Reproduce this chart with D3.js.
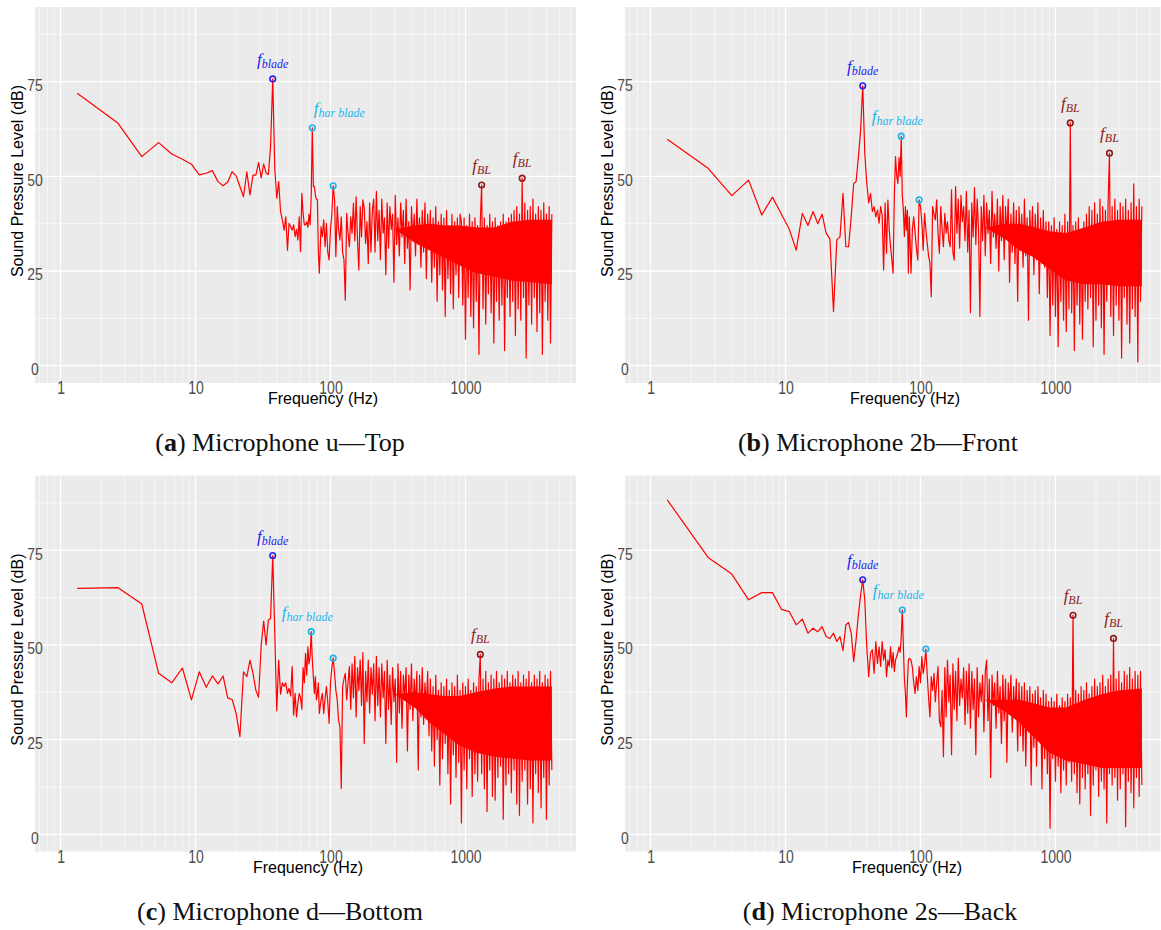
<!DOCTYPE html>
<html>
<head>
<meta charset="utf-8">
<script src="https://cdn.jsdelivr.net/npm/d3@7"></script>
<style>
  body { margin: 0; background: #fff; }
  .tick text { font-family: "Liberation Sans", Arial, sans-serif; fill: #4d4d4d; }
</style>
</head>
<body>
<svg id="fig" width="1161" height="930"></svg>
<script>
// frequency bins below ~83 Hz (every FFT bin, 4/3 Hz apart)
const lowHz = [1.33, 2.67, 4, 5.33, 6.67, 8, 9.33, 10.67, 12, 13.33,
  14.67, 16, 17.33, 18.67, 20, 21.33, 22.67, 24, 25.33, 26.67,
  28, 29.33, 30.67, 32, 33.33, 34.67, 36, 37.33, 38.67, 40,
  41.33, 42.67, 44, 45.33, 46.67, 48, 49.33, 50.67, 52, 53.33,
  54.67, 56, 57.33, 58.67, 60, 61.33, 62.67, 64, 65.33, 66.67,
  68, 69.33, 70.67, 72, 73.33, 74.67, 76, 77.33, 78.67, 80,
  81.33, 82.67];

// frequencies sampled in the dense part of the spectrum
const bandHz = [85.1, 87.1, 89.1, 91.2, 93.3, 95.5, 97.7,
  100, 102.3, 104.7, 107.2, 109.6, 112.2, 114.8, 117.5, 120.2, 123, 125.9, 128.8, 131.8, 134.9,
  138, 141.3, 144.5, 147.9, 151.4, 154.9, 158.5, 162.2, 166, 169.8, 173.8, 177.8, 182, 186.2,
  190.5, 195, 199.5, 204.2, 208.9, 213.8, 218.8, 223.9, 229.1, 234.4, 239.9, 245.5, 251.2, 257,
  263, 269.2, 275.4, 281.8, 288.4, 295.1, 302, 309, 316.2, 323.6, 331.1, 338.8, 346.7, 354.8,
  363.1, 371.5, 380.2, 389, 398.1, 407.4, 416.9, 426.6, 436.5, 446.7, 457.1, 467.7, 478.6, 489.8,
  501.2, 512.9, 524.8, 537, 549.5, 562.3, 575.4, 588.8, 602.6, 616.6, 631, 645.7, 660.7, 676.1,
  691.8, 707.9, 724.4, 741.3, 758.6, 776.2, 794.3, 812.8, 831.8, 851.1, 871, 891.3, 912, 933.3,
  955, 977.2,
  1000, 1023, 1047, 1072, 1096, 1122, 1148, 1175, 1202, 1230, 1259, 1288, 1318, 1349, 1380,
  1413, 1445, 1479, 1514, 1549, 1585, 1622, 1660, 1698, 1738, 1778, 1820, 1862, 1905, 1950,
  1995, 2042, 2089, 2138, 2188, 2239, 2291, 2344, 2399, 2455, 2512, 2570, 2630, 2692, 2754,
  2818, 2884, 2951, 3020, 3090, 3162, 3236, 3311, 3388, 3467, 3548, 3631, 3715, 3802, 3890,
  3981, 4074, 4169, 4266, 4365];

// where the trace is so dense it reads as a solid band: its lower and upper edge
const coreHz = [300, 420, 540, 700, 900, 1200, 1650, 2200, 3000, 4365];

// (a) Microphone u - Top
const lowA = [71.9, 64.0, 55.2, 58.9, 55.9, 54.5, 53.2, 50.4, 50.8, 51.5,
  48.6, 47.5, 48.5, 51.2, 50.1, 47.3, 44.6, 51.2, 45.1, 50.3,
  50.3, 53.6, 49.6, 53.2, 50.9, 50.5, 58, 75.7, 52, 44.2,
  48.6, 40.7, 38.5, 35.8, 39.3, 30.5, 37.6, 36.7, 35.8, 37.2,
  34.1, 36, 33.2, 39.3, 30.1, 45.5, 40.2, 37.2, 37.2, 38,
  36.5, 40, 37.2, 45, 62.8, 47.3, 47.3, 45, 44, 43.8,
  30, 24.4];
const bandA = [36.7, 34.1, 38.5, 31.4, 37.6, 30, 27.9, 36, 40,
  47.5, 43.8, 28.8, 42, 36, 33.2, 39.3, 30, 27.9, 17.3,
  40.2, 35, 31.4, 39.3, 35, 42.9, 33, 44.6, 33.2, 25.3,
  42, 34, 43.8, 41.6, 32.3,
  38, 27, 43, 30, 41,
  44, 30, 46, 33, 41, 28, 44, 35, 39, 24, 43, 31, 42, 36, 40, 22, 45, 32, 39, 29,
  43, 34, 41, 27, 44, 31, 38, 20, 42, 33, 40, 29, 44, 32, 39, 26, 41, 30, 43, 23, 40, 31,
  41, 22, 39, 26, 42, 17, 38, 24, 40, 20, 39, 13, 41, 23, 37, 19, 40, 15, 38, 24, 39, 18, 40,
  38, 16, 39, 7, 37, 18, 40, 13, 38, 10,
  39, 17, 37, 3, 38, 47.7, 15, 39, 11, 37,
  19, 40, 14, 38, 6, 39, 17, 37, 12, 38,
  16, 40, 4, 38, 18, 39, 13, 40,
  17, 41, 8, 42, 15, 40, 12, 49.5, 18, 43,
  2, 41, 16, 42, 11, 44, 18, 40, 9, 42,
  14, 41, 3, 43, 17, 40, 12, 42, 6, 40];
const coreLoA = [36, 32.5, 30.5, 28.5, 26.5, 24.5, 23.5, 22.5, 22, 21.5];
const coreHiA = [36, 37, 37.5, 37, 37, 36.5, 36.5, 38, 38.5, 38.5];
const marksA = [
  { hz: 37.33, db: 75.7, kind: "blade" },
  { hz: 73.33, db: 62.8, kind: "har" },
  { hz: 104.7, db: 47.5, kind: "har2" },
  { hz: 1318, db: 47.7, kind: "bl" },
  { hz: 2630, db: 49.5, kind: "bl" }];

// (b) Microphone 2b - Front
const lowB = [59.8, 52.1, 44.9, 49.0, 39.8, 44.5, 40, 36, 30.5, 40.2,
  37, 40.7, 37.5, 40, 35, 33.5, 14.3, 33.2, 34, 45.5,
  31.4, 31.4, 39.3, 48.1, 48.6, 55, 62, 73.9, 56, 48.1,
  43, 45.5, 40.7, 42, 39.3, 41.1, 37.6, 42, 39.8, 25.3,
  42.9, 29.7, 43.7, 36, 31.4, 28, 24.4, 45, 55.2, 50,
  48.1, 55, 50, 60.6, 45, 41.1, 34.1, 42, 35.8, 41.1,
  24.4, 39.3];
const bandB = [24.4, 36, 39.3, 35, 31, 27.9, 43.8, 42, 38, 30.5,
  40.2, 36, 32.3, 29, 27, 18.2, 42, 40, 38.5, 43.8,
  35, 29.7, 42, 36, 31.4, 40.2, 35, 38, 33, 31.4,
  46.4, 30, 27.9, 47.3,
  35, 44, 31, 45, 38, 42, 33, 46, 30, 41,
  14, 43, 34, 47, 32, 44, 36, 13, 42, 33,
  45, 29, 43, 35, 41, 27, 46, 34, 40, 31,
  44, 25, 42, 33, 45,
  28, 42, 34, 44, 22, 40, 30, 43, 27, 41,
  17, 42, 31, 40, 26, 44, 29, 39, 12, 41,
  30, 42, 24, 40, 28, 43, 19, 39, 27, 41,
  26, 38,
  18, 38, 8, 37, 16, 39, 13, 36, 5, 38,
  17, 37, 12, 40, 9, 38, 15, 64.1, 14, 37,
  4, 38, 16, 39, 11, 36, 7, 38, 17, 40,
  15, 42, 18, 41, 5, 43, 12, 40, 16, 44,
  10, 42, 3, 41, 17, 43, 56.1, 13, 42, 8,
  44, 16, 41, 12, 43, 2, 42, 18, 44, 11,
  41, 6, 43, 15, 48, 13, 42, 1, 44, 17,
  42];
const coreLoB = [36.5, 33.5, 30.5, 28.5, 25.5, 22.5, 21.5, 21.5, 21, 21];
const coreHiB = [36.5, 37.5, 37.5, 36.5, 35.5, 35, 36.5, 38, 38.5, 38.5];
const marksB = [
  { hz: 37.33, db: 73.9, kind: "blade" },
  { hz: 72, db: 60.6, kind: "har" },
  { hz: 97.7, db: 43.8, kind: "har2" },
  { hz: 1288, db: 64.1, kind: "bl" },
  { hz: 2512, db: 56.1, kind: "bl" }];

// (c) Microphone d - Bottom
const lowC = [64.9, 65.1, 60.8, 42.5, 40, 43.9, 35.5, 42.9, 38.8, 41.8,
  39.7, 41.8, 36, 35.6, 31.9, 25.8, 42.9, 41.6, 46, 42.5,
  38, 36.2, 50, 56.3, 50, 56.6, 57, 73.6, 53.1, 32.6,
  46, 37, 40, 39, 40, 37.2, 38.5, 36.5, 44.3, 31.5,
  37.2, 31, 34.6, 37.2, 36, 33, 44, 40, 47.8, 42,
  49.5, 45, 47, 53.5, 46, 41.6, 37.2, 41.6, 35.5, 37.2,
  40, 31.9];
const bandC = [35.5, 37.2, 31.9, 36, 39, 35, 29.3, 40, 44, 46.5,
  42.5, 38, 35.5, 30, 28.4, 12.1, 39, 41, 42.5, 35.5,
  40, 44.3,
  33, 45, 36, 47, 31, 44, 38, 46, 34, 48,
  24, 43, 35, 46, 32, 44, 37, 45, 30, 47,
  34, 44,
  31, 45, 36, 43, 24, 46, 33, 42, 29, 44,
  35, 41, 19, 45, 32, 43, 28, 42, 36, 44,
  22, 42, 33, 45, 30, 41, 34, 43, 17, 42,
  31, 44, 29, 40, 33, 43, 26,
  41, 22, 39, 18, 42, 25, 38, 13, 40, 20,
  39, 24, 41, 16, 38, 8, 40, 21, 39, 15,
  42, 19, 38, 3, 40, 17, 39, 12, 41, 20,
  38, 10, 40, 16, 39, 14, 41,
  47.5, 16, 41, 12, 43, 6, 40, 17, 42, 10,
  41, 9, 43, 15, 40, 18, 42, 4, 41, 13,
  43, 16, 40, 11, 42, 17, 41, 8, 43, 5,
  40, 14, 42, 17, 41, 8, 43, 12, 40, 3,
  42, 16, 41, 11, 43, 7, 40, 15, 42, 4,
  41, 13, 43, 17];
const coreLoC = [37, 33.5, 29.5, 26.5, 23.5, 21.5, 20.5, 20, 19.5, 19.5];
const coreHiC = [37, 37.5, 37, 36.5, 36.5, 37.5, 38.5, 39, 39, 39];
const marksC = [
  { hz: 37.33, db: 73.6, kind: "blade" },
  { hz: 72, db: 53.5, kind: "har" },
  { hz: 104.7, db: 46.5, kind: "har2" },
  { hz: 1288, db: 47.5, kind: "bl" }];

// (d) Microphone 2s - Back
const lowD = [88.3, 73.1, 68.7, 61.9, 63.8, 63.8, 59.4, 58.8, 55.3, 56.8,
  53.1, 54.4, 53.5, 54.8, 52.2, 51.7, 53.1, 50.9, 52.2, 48.5,
  55.3, 55.9, 53.1, 45.6, 51.3, 58, 63, 67.2, 61.9, 49.5,
  41.6, 47.8, 48.7, 42.5, 50.9, 45.1, 49.5, 44.3, 50.9, 46,
  48.7, 41.6, 46, 44.3, 49.5, 44, 48, 43, 46, 47,
  48, 49.5, 48, 52, 59.2, 49.5, 41, 37.2, 31, 40,
  46, 46.5];
const bandD = [46, 44, 40, 37.2, 41.6, 38, 44.3, 40, 46.9, 42.5,
  45, 48.9, 42, 36, 31, 41.6, 38, 42.5, 35, 40,
  44.3, 30, 28.4, 38, 20.5,
  44, 31, 46, 35, 42, 21, 45, 33, 43, 30,
  46.5, 34, 41, 36, 44, 29, 43, 32, 45,
  28, 43, 33, 41, 21, 44, 31, 40, 35, 42,
  27, 43, 46, 30, 41, 15, 42, 34, 40, 28,
  43, 32, 39, 24, 42, 30, 41, 19, 40, 33,
  42, 27, 39, 31, 41, 22, 40,
  26, 39, 22, 40, 18, 38, 27, 39, 13, 37,
  23, 38, 18, 39, 25, 36, 12, 38, 20, 37,
  16, 35, 1.6, 36, 20, 35, 14, 37, 18, 34,
  11, 36, 17, 35, 13, 37, 19,
  36, 14, 57.8, 16, 38, 11, 37, 8, 39, 15,
  38, 12, 40, 16, 37, 5, 39, 13, 41, 17,
  39, 10, 40, 14, 42, 12, 39, 3, 41, 16,
  42, 13, 51.7, 15, 41, 9, 43, 12, 40, 16,
  43, 2, 42, 14, 44, 11, 41, 7, 43, 15,
  42, 10, 43, 13];
const coreLoD = [35.5, 32.5, 29.5, 25.5, 21.5, 19.5, 18.5, 17.5, 17.5, 17.5];
const coreHiD = [35.5, 35.5, 35.5, 34.5, 33.5, 33.5, 35.5, 37, 38, 38.5];
const marksD = [
  { hz: 37.33, db: 67.2, kind: "blade" },
  { hz: 73.33, db: 59.2, kind: "har" },
  { hz: 109.6, db: 48.9, kind: "har2" },
  { hz: 1349, db: 57.8, kind: "bl" },
  { hz: 2692, db: 51.7, kind: "bl" }];

const xTicks = [1, 10, 100, 1000];
const yTicks = [0, 25, 50, 75];

// panel layout
var panels = [
  { key: "a", ox: 0, oy: 0, low: lowA, band: bandA, lo: coreLoA, hi: coreHiA, marks: marksA,
    caption: "Microphone u\u2014Top", capX: 280, titleX: 323, harDx: 27 },
  { key: "b", ox: 590, oy: 0, low: lowB, band: bandB, lo: coreLoB, hi: coreHiB, marks: marksB,
    caption: "Microphone 2b\u2014Front", capX: 878, titleX: 315, harDx: -4 },
  { key: "c", ox: 0, oy: 468.6, low: lowC, band: bandC, lo: coreLoC, hi: coreHiC, marks: marksC,
    caption: "Microphone d\u2014Bottom", capX: 280, titleX: 308, harDx: -4 },
  { key: "d", ox: 590, oy: 468.6, low: lowD, band: bandD, lo: coreLoD, hi: coreHiD, marks: marksD,
    caption: "Microphone 2s\u2014Back", capX: 880, titleX: 317, harDx: -4 }
];

var colors = { blade: "#2323f0", har: "#1cb4ea", har2: "#1cb4ea", bl: "#8e1c1c" };
var subs = { blade: "blade", har: "har blade", bl: "BL" };

var plotL = 35, plotR = 576, plotT = 7, plotB = 383;
var svg = d3.select("#fig");

// soft edge for the dense band
svg.append("defs").append("filter").attr("id", "soft")
  .append("feGaussianBlur").attr("stdDeviation", 0.7);

panels.forEach(function (p) {
  var g = svg.append("g").attr("transform", "translate(" + p.ox + "," + p.oy + ")");

  var x = d3.scaleLog().domain([0.647, 6590]).range([plotL, plotR]);
  var y = d3.scaleLinear().domain([-4.57, 94.7]).range([plotB, plotT]);

  // panel background
  g.append("rect")
    .attr("x", plotL).attr("y", plotT)
    .attr("width", plotR - plotL).attr("height", plotB - plotT)
    .attr("fill", "#ebebeb");

  // minor grid
  var minorX = [];
  [0.1, 1, 10, 100, 1000].forEach(function (dec) {
    for (var m = 2; m <= 9; m++) minorX.push(m * dec);
  });
  minorX = minorX.filter(function (v) { return v > 0.647 && v < 6590; });
  g.append("g").selectAll("line").data(minorX).enter().append("line")
    .attr("x1", function (d) { return x(d); }).attr("x2", function (d) { return x(d); })
    .attr("y1", plotT).attr("y2", plotB)
    .attr("stroke", "#fff").attr("stroke-width", 0.6);
  g.append("g").selectAll("line").data([12.5, 37.5, 62.5, 87.5]).enter().append("line")
    .attr("x1", plotL).attr("x2", plotR)
    .attr("y1", function (d) { return y(d); }).attr("y2", function (d) { return y(d); })
    .attr("stroke", "#fff").attr("stroke-width", 0.6);

  // major grid
  g.append("g").selectAll("line").data(xTicks).enter().append("line")
    .attr("x1", function (d) { return x(d); }).attr("x2", function (d) { return x(d); })
    .attr("y1", plotT).attr("y2", plotB)
    .attr("stroke", "#fff").attr("stroke-width", 1.3);
  g.append("g").selectAll("line").data(yTicks).enter().append("line")
    .attr("x1", plotL).attr("x2", plotR)
    .attr("y1", function (d) { return y(d); }).attr("y2", function (d) { return y(d); })
    .attr("stroke", "#fff").attr("stroke-width", 1.3);

  // clip to the panel
  g.append("clipPath").attr("id", "clip-" + p.key)
    .append("rect").attr("x", plotL).attr("y", plotT)
    .attr("width", plotR - plotL).attr("height", plotB - plotT);

  // solid core of the dense part
  var area = d3.area()
    .x(function (d) { return x(d[0]); })
    .y0(function (d) { return y(d[1]); })
    .y1(function (d) { return y(d[2]); });
  g.append("g").attr("clip-path", "url(#clip-" + p.key + ")")
    .append("path")
    .datum(d3.zip(coreHz, p.lo, p.hi))
    .attr("d", area)
    .attr("fill", "#ff0000")
    .attr("filter", "url(#soft)");

  var pts = d3.zip(lowHz, p.low).concat(d3.zip(bandHz, p.band));
  var line = d3.line()
    .x(function (d) { return x(d[0]); })
    .y(function (d) { return y(d[1]); });

  g.append("path")
    .datum(pts)
    .attr("clip-path", "url(#clip-" + p.key + ")")
    .attr("d", line)
    .attr("fill", "none")
    .attr("stroke", "#ff0000")
    .attr("stroke-width", 1.2)
    .attr("stroke-linejoin", "round");

  // marker circles
  g.selectAll(".mark").data(p.marks).enter().append("circle")
    .attr("class", "mark")
    .attr("cx", function (d) { return x(d.hz); })
    .attr("cy", function (d) { return y(d.db); })
    .attr("r", 2.8)
    .attr("fill", "none")
    .attr("stroke", function (d) { return colors[d.kind]; })
    .attr("stroke-width", 1.6);

  // marker labels
  var labs = g.selectAll(".lab").data(p.marks.filter(function (d) { return d.kind !== "har2"; }))
    .enter().append("text")
    .attr("class", "lab")
    .attr("x", function (d) { return x(d.hz) + (d.kind === "har" ? p.harDx : 0); })
    .attr("y", function (d) { return y(d.db) - 14; })
    .attr("text-anchor", "middle")
    .attr("font-family", "'Liberation Serif', serif")
    .attr("font-style", "italic")
    .attr("fill", function (d) { return colors[d.kind]; });
  labs.append("tspan").attr("font-size", 17).text("f");
  labs.append("tspan").attr("font-size", 12).attr("dy", 3)
    .text(function (d) { return subs[d.kind]; });

  // axes (labels drawn a little taller, as in the source image)
  var xa = g.append("g").attr("transform", "translate(0," + plotB + ")")
    .call(d3.axisBottom(x).tickValues(xTicks).tickFormat(d3.format("d")).tickSize(0));
  xa.select(".domain").remove();
  xa.selectAll("text").attr("font-size", 14).attr("y", 9).attr("dy", 0)
    .attr("transform", "scale(1,1.25)");

  var ya = g.append("g").attr("transform", "translate(" + plotL + ",0)")
    .call(d3.axisLeft(y).tickValues(yTicks).tickSize(0));
  ya.select(".domain").remove();
  ya.selectAll("text").attr("font-size", 14).attr("x", 0).attr("dy", 7.3)
    .attr("text-anchor", "middle").attr("transform", "scale(1,1.22)");

  // axis titles
  g.append("text")
    .attr("x", p.titleX).attr("y", 404)
    .attr("text-anchor", "middle")
    .attr("font-family", "'Liberation Sans', Arial, sans-serif")
    .attr("font-size", 16)
    .text("Frequency (Hz)");
  g.append("text")
    .attr("transform", "translate(23,181) rotate(-90)")
    .attr("text-anchor", "middle")
    .attr("font-family", "'Liberation Sans', Arial, sans-serif")
    .attr("font-size", 16)
    .text("Sound Pressure Level (dB)");

  // caption under the panel
  var cap = svg.append("text")
    .attr("x", p.capX).attr("y", p.oy + 451)
    .attr("text-anchor", "middle")
    .attr("font-family", "'Liberation Serif', serif")
    .attr("font-size", 26)
    .attr("fill", "#111");
  cap.append("tspan").text("(");
  cap.append("tspan").attr("font-weight", "bold").text(p.key);
  cap.append("tspan").text(") " + p.caption);
});
</script>
</body>
</html>
